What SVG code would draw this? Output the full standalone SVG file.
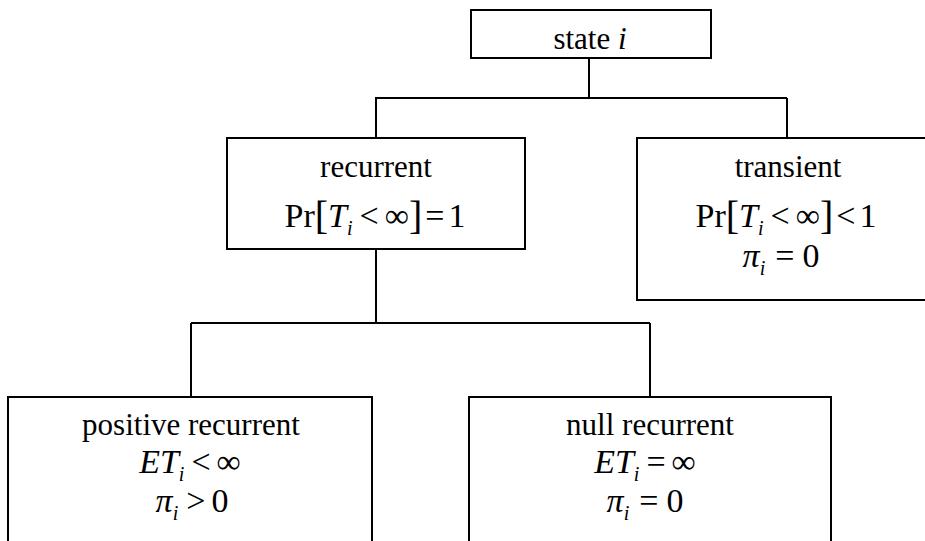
<svg xmlns="http://www.w3.org/2000/svg" width="925" height="541" viewBox="0 0 925 541">
  <style>
    .box { fill: #ffffff; stroke: #000000; stroke-width: 2; }
    .wire { fill: none; stroke: #000000; stroke-width: 2; }
    .t { font-family: "Liberation Serif", "Times New Roman", serif; font-size: 31px; fill: #000000; text-anchor: middle; }
    .m { font-family: "Liberation Serif", "Times New Roman", serif; font-size: 34px; fill: #000000; text-anchor: middle; }
    .it { font-style: italic; }
    .sub { font-style: italic; font-size: 20px; }
    .br { font-size: 40px; }
  </style>

  <!-- tree connectors -->
  <g id="connectors">
    <path class="wire" d="M589 58 V98"/>
    <path class="wire" d="M375 98 H787"/>
    <path class="wire" d="M376 98 V138"/>
    <path class="wire" d="M787 98 V138"/>
    <path class="wire" d="M376 249 V323"/>
    <path class="wire" d="M191 323 H650"/>
    <path class="wire" d="M191 323 V397"/>
    <path class="wire" d="M650 323 V397"/>
  </g>

  <g id="state">
    <rect class="box" x="471" y="10" width="240" height="48"/>
    <text class="t" x="590" y="49">state <tspan class="it">i</tspan></text>
  </g>

  <g id="recurrent">
    <rect class="box" x="227" y="138" width="298" height="111"/>
    <text class="t" x="376" y="177">recurrent</text>
    <text class="m" x="375" y="227">Pr<tspan class="br" dy="2">[</tspan><tspan class="it" dy="-2">T</tspan><tspan class="sub" dy="8">i</tspan><tspan dy="-8" dx="7">&lt;</tspan><tspan dx="6">∞</tspan><tspan class="br" dy="2">]</tspan><tspan dy="-2" dx="3">=</tspan><tspan dx="4">1</tspan></text>
  </g>

  <g id="transient">
    <rect class="box" x="637" y="138" width="300" height="162"/>
    <text class="t" x="788" y="177">transient</text>
    <text class="m" x="786" y="227">Pr<tspan class="br" dy="2">[</tspan><tspan class="it" dy="-2">T</tspan><tspan class="sub" dy="8">i</tspan><tspan dy="-8" dx="7">&lt;</tspan><tspan dx="6">∞</tspan><tspan class="br" dy="2">]</tspan><tspan dy="-2" dx="3">&lt;</tspan><tspan dx="4">1</tspan></text>
    <text class="m" x="781" y="267"><tspan class="it">π</tspan><tspan class="sub" dy="8">i</tspan><tspan dy="-8" dx="10">=</tspan><tspan dx="8">0</tspan></text>
  </g>

  <g id="positive-recurrent">
    <rect class="box" x="8" y="397" width="364" height="160"/>
    <text class="t" x="191" y="435">positive recurrent</text>
    <text class="m" x="190" y="473"><tspan class="it">ET</tspan><tspan class="sub" dy="8">i</tspan><tspan dy="-8" dx="7">&lt;</tspan><tspan dx="6">∞</tspan></text>
    <text class="m" x="192" y="512"><tspan class="it">π</tspan><tspan class="sub" dy="8">i</tspan><tspan dy="-8" dx="8">&gt;</tspan><tspan dx="6">0</tspan></text>
  </g>

  <g id="null-recurrent">
    <rect class="box" x="469" y="397" width="362" height="160"/>
    <text class="t" x="650" y="435">null recurrent</text>
    <text class="m" x="645" y="473"><tspan class="it">ET</tspan><tspan class="sub" dy="8">i</tspan><tspan dy="-8" dx="7">=</tspan><tspan dx="6">∞</tspan></text>
    <text class="m" x="645" y="512"><tspan class="it">π</tspan><tspan class="sub" dy="8">i</tspan><tspan dy="-8" dx="10">=</tspan><tspan dx="8">0</tspan></text>
  </g>
</svg>
